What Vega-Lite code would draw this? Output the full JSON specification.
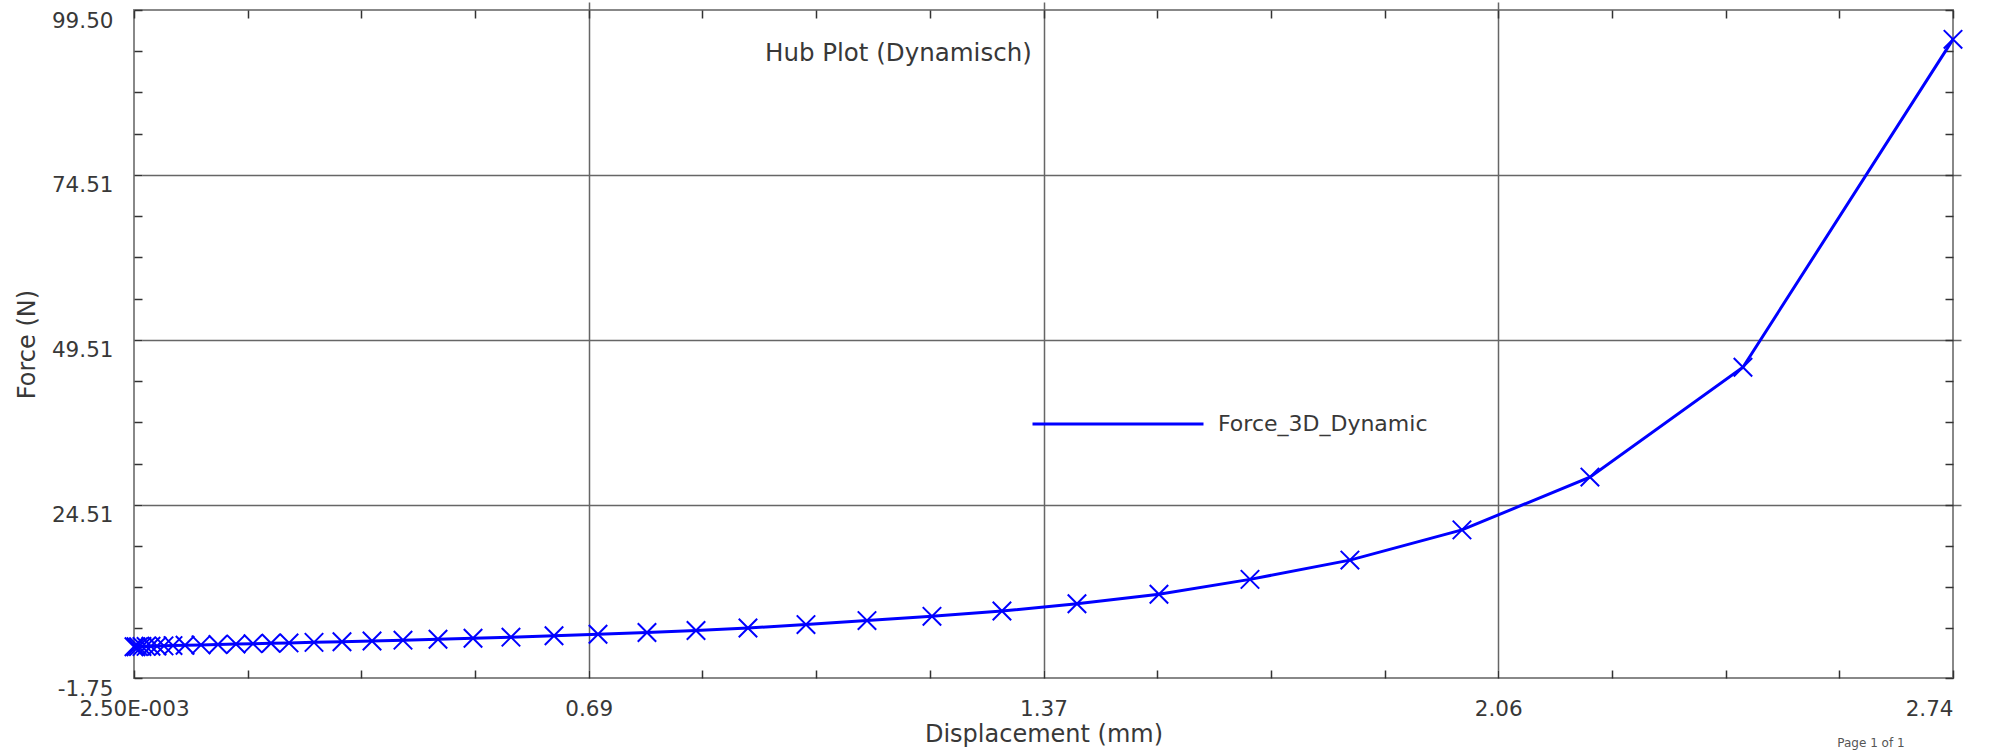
{
  "$schema": "https://vega.github.io/schema/vega-lite/v6.json",
  "width": 1819,
  "height": 668,
  "autosize": {"type": "none"},
  "padding": {"left": 134, "top": 10, "right": 39, "bottom": 73},
  "background": "white",
  "title": {
    "text": "Hub Plot (Dynamisch)",
    "anchor": "start",
    "frame": "group",
    "dx": 631,
    "offset": -76,
    "baseline": "alphabetic",
    "font": "DejaVu Sans",
    "fontSize": 24.5,
    "fontWeight": "normal",
    "color": "#383838"
  },
  "config": {
    "font": "DejaVu Sans",
    "view": {"stroke": "#888888", "strokeWidth": 2},
    "axis": {
      "labelFont": "DejaVu Sans",
      "labelFontSize": 21.5,
      "labelColor": "#383838",
      "titleFont": "DejaVu Sans",
      "titleFontSize": 24,
      "titleFontWeight": "normal",
      "titleColor": "#383838",
      "tickColor": "#333333",
      "tickWidth": 1.5,
      "tickSize": 8,
      "offset": -8,
      "domain": false,
      "labelOverlap": false,
      "labelBound": false,
      "labelFlush": false
    }
  },
  "data": {
    "values": [
      {"displacement": 0.0025, "force": 2.98, "series": "Force_3D_Dynamic"},
      {"displacement": 0.0055, "force": 2.99, "series": "Force_3D_Dynamic"},
      {"displacement": 0.0093, "force": 3.0, "series": "Force_3D_Dynamic"},
      {"displacement": 0.0145, "force": 3.02, "series": "Force_3D_Dynamic"},
      {"displacement": 0.0206, "force": 3.04, "series": "Force_3D_Dynamic"},
      {"displacement": 0.0281, "force": 3.06, "series": "Force_3D_Dynamic"},
      {"displacement": 0.0371, "force": 3.09, "series": "Force_3D_Dynamic"},
      {"displacement": 0.0476, "force": 3.12, "series": "Force_3D_Dynamic"},
      {"displacement": 0.0612, "force": 3.16, "series": "Force_3D_Dynamic"},
      {"displacement": 0.0793, "force": 3.21, "series": "Force_3D_Dynamic"},
      {"displacement": 0.1033, "force": 3.27, "series": "Force_3D_Dynamic"},
      {"displacement": 0.1289, "force": 3.33, "series": "Force_3D_Dynamic"},
      {"displacement": 0.156, "force": 3.39, "series": "Force_3D_Dynamic"},
      {"displacement": 0.1816, "force": 3.45, "series": "Force_3D_Dynamic"},
      {"displacement": 0.2087, "force": 3.51, "series": "Force_3D_Dynamic"},
      {"displacement": 0.2358, "force": 3.57, "series": "Force_3D_Dynamic"},
      {"displacement": 0.2734, "force": 3.65, "series": "Force_3D_Dynamic"},
      {"displacement": 0.3155, "force": 3.75, "series": "Force_3D_Dynamic"},
      {"displacement": 0.3607, "force": 3.86, "series": "Force_3D_Dynamic"},
      {"displacement": 0.4073, "force": 3.98, "series": "Force_3D_Dynamic"},
      {"displacement": 0.46, "force": 4.12, "series": "Force_3D_Dynamic"},
      {"displacement": 0.5127, "force": 4.27, "series": "Force_3D_Dynamic"},
      {"displacement": 0.5698, "force": 4.44, "series": "Force_3D_Dynamic"},
      {"displacement": 0.6346, "force": 4.65, "series": "Force_3D_Dynamic"},
      {"displacement": 0.7008, "force": 4.88, "series": "Force_3D_Dynamic"},
      {"displacement": 0.7745, "force": 5.15, "series": "Force_3D_Dynamic"},
      {"displacement": 0.8483, "force": 5.45, "series": "Force_3D_Dynamic"},
      {"displacement": 0.9265, "force": 5.83, "series": "Force_3D_Dynamic"},
      {"displacement": 1.0138, "force": 6.35, "series": "Force_3D_Dynamic"},
      {"displacement": 1.1056, "force": 6.95, "series": "Force_3D_Dynamic"},
      {"displacement": 1.2034, "force": 7.6, "series": "Force_3D_Dynamic"},
      {"displacement": 1.3087, "force": 8.4, "series": "Force_3D_Dynamic"},
      {"displacement": 1.4216, "force": 9.5, "series": "Force_3D_Dynamic"},
      {"displacement": 1.545, "force": 10.95, "series": "Force_3D_Dynamic"},
      {"displacement": 1.682, "force": 13.2, "series": "Force_3D_Dynamic"},
      {"displacement": 1.8324, "force": 16.12, "series": "Force_3D_Dynamic"},
      {"displacement": 2.001, "force": 20.7, "series": "Force_3D_Dynamic"},
      {"displacement": 2.1936, "force": 28.7, "series": "Force_3D_Dynamic"},
      {"displacement": 2.4239, "force": 45.35, "series": "Force_3D_Dynamic"},
      {"displacement": 2.74, "force": 95.05, "series": "Force_3D_Dynamic"}
    ]
  },
  "layer": [
    {
      "mark": {"type": "line", "strokeWidth": 3, "interpolate": "linear"},
      "encoding": {
        "x": {
          "field": "displacement",
          "type": "quantitative",
          "scale": {"domain": [0.0025, 2.74], "nice": false, "zero": false},
          "axis": {
            "orient": "bottom",
            "title": "Displacement (mm)",
            "titlePadding": 3,
            "values": [0.0025, 0.17359375, 0.3446875, 0.51578125, 0.686875, 0.85796875, 1.0290625, 1.20015625, 1.37125, 1.54234375, 1.7134375, 1.88453125, 2.055625, 2.22671875, 2.3978125, 2.56890625, 2.74],
            "grid": true,
            "gridColor": "#666666",
            "gridWidth": 1.5,
            "gridOpacity": {"condition": {"test": "indexof([0.686875, 1.37125, 2.055625], datum.value) >= 0", "value": 1}, "value": 0},
            "labelPadding": 20,
            "labelBaseline": "top",
            "labelAlign": {"condition": {"test": "datum.value > 2.7", "value": "right"}, "value": "center"},
            "labelExpr": "datum.value < 0.01 ? '2.50E-003' : (indexof([0.686875, 1.37125, 2.055625, 2.74], datum.value) >= 0 ? format(datum.value, '.2f') : '')"
          }
        },
        "y": {
          "field": "force",
          "type": "quantitative",
          "scale": {"domain": [-1.75, 99.5], "nice": false, "zero": false},
          "axis": {
            "orient": "left",
            "title": "Force (N)",
            "titlePadding": 12,
            "values": [-1.75, 5.76, 12.01, 18.26, 24.51, 30.76, 37.01, 43.26, 49.51, 55.76, 62.01, 68.26, 74.51, 80.76, 87.0, 93.25, 99.5],
            "grid": true,
            "gridColor": "#666666",
            "gridWidth": 1.5,
            "gridOpacity": {"condition": {"test": "indexof([24.51, 49.51, 74.51], datum.value) >= 0", "value": 1}, "value": 0},
            "labelPadding": 21,
            "labelBaseline": "top",
            "labelAlign": "right",
            "labelExpr": "datum.value < 0 ? '-1.75' : (indexof([24.51, 49.51, 74.51, 99.5], datum.value) >= 0 ? format(datum.value, '.2f') : '')"
          }
        },
        "color": {
          "field": "series",
          "type": "nominal",
          "scale": {"range": ["#0000ff"]},
          "legend": {
            "orient": "none",
            "legendX": 897,
            "legendY": 327,
            "title": null,
            "padding": 0,
            "symbolType": "stroke",
            "symbolSize": 29241,
            "symbolStrokeWidth": 3,
            "labelFont": "DejaVu Sans",
            "labelFontSize": 22,
            "labelColor": "#383838",
            "labelOffset": 13,
            "labelLimit": 600
          }
        }
      }
    },
    {
      "mark": {
        "type": "point",
        "shape": "M-1,-1L1,1M1,-1L-1,1",
        "filled": false,
        "stroke": "#0000ff",
        "strokeWidth": 2,
        "size": 340,
        "opacity": 1
      },
      "encoding": {
        "x": {
          "field": "displacement",
          "type": "quantitative",
          "scale": {"domain": [0.0025, 2.74], "nice": false, "zero": false},
          "axis": {
            "orient": "top",
            "title": null,
            "labels": false,
            "grid": false,
            "values": [0.0025, 0.17359375, 0.3446875, 0.51578125, 0.686875, 0.85796875, 1.0290625, 1.20015625, 1.37125, 1.54234375, 1.7134375, 1.88453125, 2.055625, 2.22671875, 2.3978125, 2.56890625, 2.74]
          }
        },
        "y": {
          "field": "force",
          "type": "quantitative",
          "scale": {"domain": [-1.75, 99.5], "nice": false, "zero": false},
          "axis": {
            "orient": "right",
            "title": null,
            "labels": false,
            "grid": false,
            "values": [-1.75, 5.76, 12.01, 18.26, 24.51, 30.76, 37.01, 43.26, 49.51, 55.76, 62.01, 68.26, 74.51, 80.76, 87.0, 93.25, 99.5]
          }
        }
      }
    },
    {
      "data": {"values": [{"footer": "Page 1 of 1"}]},
      "mark": {"type": "text", "font": "DejaVu Sans", "fontSize": 12, "color": "#555555", "align": "center", "baseline": "alphabetic"},
      "encoding": {
        "text": {"field": "footer"},
        "x": {"datum": 2.6165, "axis": null},
        "y": {"datum": -12.21, "axis": null}
      }
    }
  ],
  "resolve": {"axis": {"x": "independent", "y": "independent"}}
}
